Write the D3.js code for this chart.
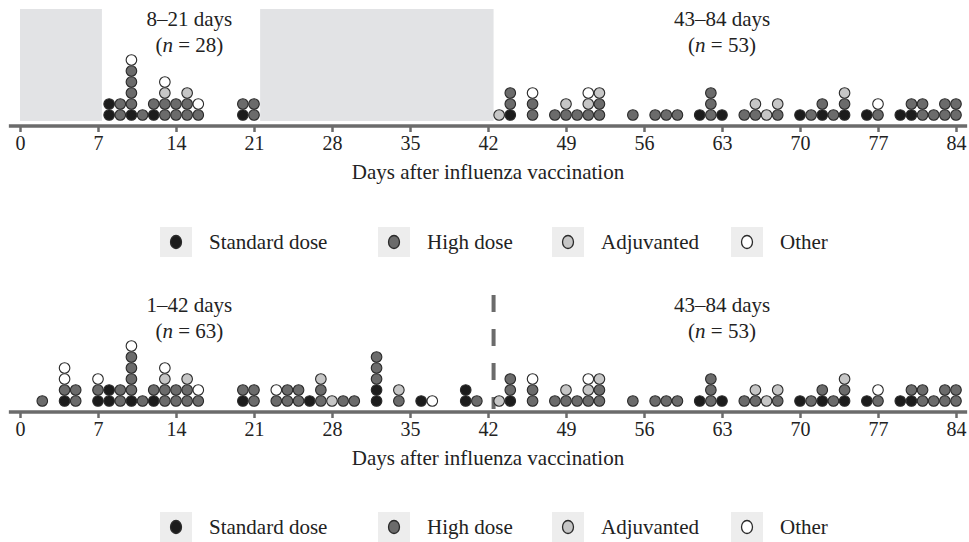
<!DOCTYPE html>
<html>
<head>
<meta charset="utf-8">
<script src="https://cdn.jsdelivr.net/npm/d3@7"></script>
<style>
  html, body { margin: 0; padding: 0; background: #fff; }
  svg { display: block; }
  text { font-family: "Liberation Serif", "Times New Roman", serif; fill: #222; }
</style>
</head>
<body>
<svg id="chart" width="969" height="542"></svg>
<script>
// ---------- DATA ----------
const categories = ["Standard dose", "High dose", "Adjuvanted", "Other"];
const categoryCodes = ["S", "H", "A", "O"];
const categoryColors = ["#1c1c1c", "#6b6b6b", "#c6c6c6", "#ffffff"];

// Days 1–42: day of onset and stacked case types (bottom to top)
const earlyDays = [2, 4, 5, 7, 8, 9, 10, 11, 12, 13, 14, 15, 16, 20, 21, 23, 24, 25, 26, 27, 28, 29, 30, 32, 34, 36, 37, 40, 41];
const earlyStacks = ["H", "SHOO", "HH", "SHO", "SS", "HH", "SHHHHO", "H", "SH", "HHAO", "HH", "HHA", "HO", "SH", "HH",
                     "HO", "HH", "HH", "S", "HHA", "A", "H", "H", "SSHHH", "HA", "S", "O", "SS", "H"];

// Days 43–84
const lateDays = [43, 44, 46, 48, 49, 50, 51, 52, 55, 57, 58, 59, 61, 62, 63, 65, 66, 67, 68, 70, 71, 72, 73, 74, 76, 77, 79, 80, 81, 82, 83, 84];
const lateStacks = ["A", "SHH", "HHO", "H", "HA", "H", "HAO", "HHA", "H", "H", "H", "H", "S", "HHH", "S", "H", "HA", "A", "HA",
                    "S", "H", "SH", "H", "SHA", "S", "HO", "S", "SH", "HH", "H", "HH", "HH"];

const tickDays = [0, 7, 14, 21, 28, 35, 42, 49, 56, 63, 70, 77, 84];
const axisTitle = "Days after influenza vaccination";

// ---------- HELPERS ----------
function toDots(days, stacks) {
  const out = [];
  days.forEach((d, i) => {
    stacks[i].split("").forEach((c, k) => out.push({ day: d, row: k, cat: categoryCodes.indexOf(c) }));
  });
  return out;
}
const earlyDots = toDots(earlyDays, earlyStacks);
const lateDots = toDots(lateDays, lateStacks);

const svg = d3.select("#chart");
const x = d3.scaleLinear().domain([0, 84]).range([20, 956]);
const color = d3.scaleOrdinal().domain(d3.range(4)).range(categoryColors);

function panel(cfg) {
  const g = svg.append("g");
  const axisY = cfg.axisY;
  const y = d3.scaleLinear().domain([0, 1]).range([axisY - 11, axisY - 22]);

  cfg.shades.forEach(s => {
    g.append("rect")
      .attr("x", x(s[0])).attr("width", x(s[1]) - x(s[0]))
      .attr("y", cfg.shadeTop).attr("height", axisY - 5 - cfg.shadeTop)
      .attr("fill", "#e2e3e5");
  });

  if (cfg.divider != null) {
    g.append("line")
      .attr("x1", x(cfg.divider)).attr("x2", x(cfg.divider))
      .attr("y1", cfg.dividerTop).attr("y2", axisY - 3)
      .attr("stroke", "#6b6b6b").attr("stroke-width", 4)
      .attr("stroke-dasharray", "17,17");
  }

  g.selectAll("circle.dot").data(cfg.dots).join("circle")
    .attr("class", "dot")
    .attr("cx", d => x(d.day)).attr("cy", d => y(d.row)).attr("r", 5.3)
    .attr("fill", d => color(d.cat)).attr("stroke", "#2a2a2a").attr("stroke-width", 1.1);

  const ax = g.append("g").attr("transform", `translate(0,${axisY})`)
    .call(d3.axisBottom(x).tickValues(tickDays).tickSize(6).tickSizeOuter(0).tickPadding(4));
  ax.select(".domain").remove();
  ax.selectAll(".tick line").attr("stroke", "#6b6b6b").attr("stroke-width", 2.5);
  ax.selectAll(".tick text").attr("font-size", 20).attr("fill", "#222")
    .attr("font-family", "Liberation Serif, serif");
  g.append("line")
    .attr("x1", x(-1)).attr("x2", x(85)).attr("y1", axisY).attr("y2", axisY)
    .attr("stroke", "#6b6b6b").attr("stroke-width", 3.3);

  g.append("text").attr("x", x(42)).attr("y", cfg.titleY)
    .attr("text-anchor", "middle").attr("font-size", 21).text(axisTitle);

  cfg.labels.forEach(l => {
    g.append("text").attr("x", x(l.center)).attr("y", cfg.labelY)
      .attr("text-anchor", "middle").attr("font-size", 21).text(l.text);
    const t = g.append("text").attr("x", x(l.center)).attr("y", cfg.labelY + 26)
      .attr("text-anchor", "middle").attr("font-size", 21);
    t.append("tspan").text("(");
    t.append("tspan").attr("font-style", "italic").text("n");
    t.append("tspan").text(" = " + l.n + ")");
  });

  const legX = [160, 378, 552, 731];
  const lg = g.append("g").attr("transform", `translate(0,${cfg.legendY})`);
  categories.forEach((c, i) => {
    lg.append("rect").attr("x", legX[i]).attr("y", -14).attr("width", 32).attr("height", 30).attr("fill", "#ededed");
    lg.append("ellipse").attr("cx", legX[i] + 16).attr("cy", 1).attr("rx", 5.5).attr("ry", 6.5)
      .attr("fill", categoryColors[i]).attr("stroke", "#2a2a2a").attr("stroke-width", 1.3);
    lg.append("text").attr("x", legX[i] + 49).attr("y", 8).attr("font-size", 21).text(c);
  });
}

const topEarly = earlyDots.filter(d => d.day >= 8 && d.day <= 21);
panel({
  axisY: 126, shadeTop: 9, shades: [[0, 7.35], [21.55, 42.5]], divider: null,
  dots: topEarly.concat(lateDots),
  titleY: 179, labelY: 26, legendY: 241,
  labels: [{ center: 15.2, text: "8–21 days", n: topEarly.length },
           { center: 63, text: "43–84 days", n: lateDots.length }]
});

panel({
  axisY: 412, shadeTop: 0, shades: [], divider: 42.5, dividerTop: 295,
  dots: earlyDots.concat(lateDots),
  titleY: 465, labelY: 312, legendY: 526,
  labels: [{ center: 15.2, text: "1–42 days", n: earlyDots.length },
           { center: 63, text: "43–84 days", n: lateDots.length }]
});
</script>
</body>
</html>
